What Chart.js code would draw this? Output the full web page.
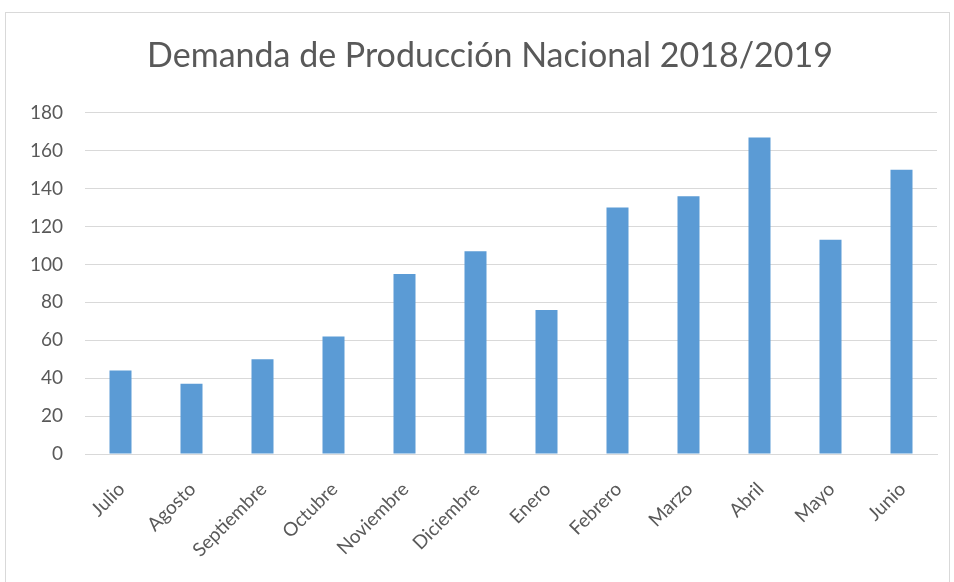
<!DOCTYPE html>
<html>
<head>
<meta charset="utf-8">
<script src="https://cdn.jsdelivr.net/npm/chart.js@4"></script>
<style>
  body { margin: 0; background: #fff; }
  #box {
    position: absolute; left: 5px; top: 12px;
    width: 943px; height: 569px;
    border: 1px solid #d9d9d9; border-bottom: none;
  }
</style>
</head>
<body>
<div id="box"><canvas id="chart" width="943" height="569"></canvas></div>
<script>
// demanda mensual, julio 2018 a junio 2019
const titulo = "Demanda de Producción Nacional 2018/2019";
const meses = ["Julio", "Agosto", "Septiembre", "Octubre", "Noviembre", "Diciembre",
               "Enero", "Febrero", "Marzo", "Abril", "Mayo", "Junio"];
const demanda = [44, 37, 50, 62, 95, 107, 76, 130, 136, 167, 113, 150];
const ejeMin = 0;
const ejeMax = 180;
const ejePaso = 20;

const gris = "#595959";
const fuente = "Lato, 'Open Sans', sans-serif";

// the y labels are wider than the axis box, so let them draw past its left edge
const sinRecorteY = {
  id: 'sinRecorteY',
  afterLayout(chart) {
    chart.scales.y.left = 0;
  }
};

new Chart(document.getElementById("chart"), {
  type: 'bar',
  data: {
    labels: meses,
    datasets: [{
      data: demanda,
      backgroundColor: '#5b9bd5',
      barPercentage: 0.31,
      categoryPercentage: 1
    }]
  },
  plugins: [sinRecorteY],
  options: {
    responsive: false,
    animation: false,
    layout: { padding: { left: 37, right: 12, top: 0, bottom: 0 } },
    plugins: {
      legend: { display: false },
      tooltip: { enabled: false },
      title: {
        display: true,
        text: titulo,
        color: gris,
        font: { family: fuente, size: 34, weight: 'normal' },
        padding: { top: 23, bottom: 36 }
      }
    },
    scales: {
      x: {
        afterFit: (scale) => { scale.height = 128; },
        grid: { display: false, drawTicks: false },
        border: { display: true, color: '#d9d9d9' },
        ticks: {
          color: gris,
          font: { family: fuente, size: 19 },
          minRotation: 45,
          maxRotation: 45,
          padding: 24,
          labelOffset: 1
        }
      },
      y: {
        min: ejeMin,
        max: ejeMax,
        afterFit: (scale) => { scale.width = 42; },
        grid: { color: '#d9d9d9', drawTicks: false },
        border: { display: false },
        ticks: {
          stepSize: ejePaso,
          color: gris,
          font: { family: fuente, size: 19 },
          padding: 22
        }
      }
    }
  }
});
</script>
</body>
</html>
